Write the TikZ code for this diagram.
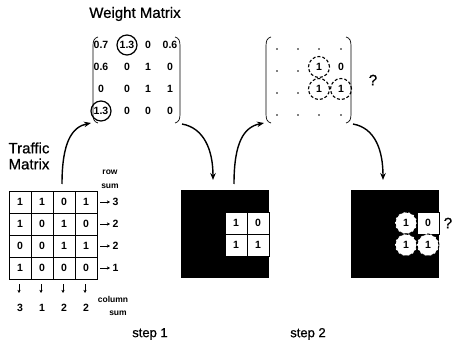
\documentclass[tikz,border=0pt]{standalone}
\usepackage{fontspec}
\setmainfont{Liberation Sans}
\newfontfamily\heavyfont{Liberation Sans}[FakeBold=0.7]
\usetikzlibrary{arrows.meta}
\begin{document}
\begin{tikzpicture}[x=1pt,y=-1pt,
  num/.style={font=\bfseries\fontsize{10.5}{11}\selectfont, inner sep=0pt},
  small/.style={font=\bfseries\fontsize{8.5}{9}\selectfont, inner sep=0pt},
  big/.style={font=\heavyfont\fontsize{15}{16}\selectfont, inner sep=0pt},
  steplbl/.style={font=\heavyfont\fontsize{13}{14}\selectfont, inner sep=0pt},
  conn/.style={line width=1.4pt, -{Stealth[length=7pt,width=5.5pt]}},
  tip/.style={line width=0.9pt, -{Stealth[length=3.2pt,width=3.2pt]}},
  brk/.style={line width=0.7pt, black},
  ring/.style={circle, draw, line width=1.2pt, minimum size=20pt, inner sep=0pt},
  dring/.style={circle, draw, line width=1.1pt, dash pattern=on 3pt off 2pt, minimum size=21pt, inner sep=0pt},
  wdisk/.style={circle, fill=white, draw, line width=1pt, dash pattern=on 3pt off 2pt, minimum size=22pt, inner sep=0pt},
  dotp/.style={circle, fill=black, minimum size=1.8pt, inner sep=0pt},
  cell/.style={draw, line width=0.5pt, minimum size=22pt, inner sep=0pt},
  wcell/.style={fill=white, draw, line width=0.5pt, minimum size=22pt, inner sep=0pt}
]
\useasboundingbox (0,0) rectangle (462,344);

% ---------- Weight matrix 1 ----------
\node[big] (title) at (135,14) {Weight Matrix};
\draw[brk] (98,37) .. controls (94,38) and (93,41) .. (93,46) -- (93,114) .. controls (93,119) and (94,122) .. (98,123);
\draw[brk] (175,37) .. controls (179,38) and (180,41) .. (180,46) -- (180,114) .. controls (180,119) and (179,122) .. (175,123);
\node[num] (a11) at (101,45) {0.7};
\node[num,ring] (a12) at (127,45) {1.3};
\node[num] (a13) at (148,45) {0};
\node[num] (a14) at (170,45) {0.6};
\node[num] (a21) at (101,67) {0.6};
\node[num] (a22) at (127,67) {0};
\node[num] (a23) at (148,67) {1};
\node[num] (a24) at (170,67) {0};
\node[num] (a31) at (101,89) {0};
\node[num] (a32) at (127,89) {0};
\node[num] (a33) at (148,89) {1};
\node[num] (a34) at (170,89) {1};
\node[num,ring] (a41) at (101,111) {1.3};
\node[num] (a42) at (127,111) {0};
\node[num] (a43) at (148,111) {0};
\node[num] (a44) at (170,111) {0};

% ---------- Weight matrix 2 ----------
\draw[brk] (271,37) .. controls (267,38) and (266,41) .. (266,46) -- (266,114) .. controls (266,119) and (267,122) .. (271,123);
\draw[brk] (346,37) .. controls (350,38) and (351,41) .. (351,46) -- (351,114) .. controls (351,119) and (350,122) .. (346,123);
\foreach \c/\x in {1/277,2/298,3/319,4/341}{
  \node[dotp] (p1\c) at (\x,49) {};
  \node[dotp] (p4\c) at (\x,115) {};
}
\node[dotp] (p21) at (277,71) {};
\node[dotp] (p22) at (298,71) {};
\node[dotp] (p31) at (277,93) {};
\node[dotp] (p32) at (298,93) {};
\node[num,dring] (b23) at (319,67) {1};
\node[num] (b24) at (341,67) {0};
\node[num,dring] (b33) at (319,89) {1};
\node[num,dring] (b34) at (341,89) {1};
\node[big] (q1) at (373,80) {?};

% ---------- Traffic matrix ----------
\node[big] (tl1) at (29,148) {Traffic};
\node[big] (tl2) at (29,164) {Matrix};
\node[small] (rowl) at (110,172) {row};
\node[small] (rowl2) at (110,186) {sum};
\foreach \r/\y/\a/\b/\cc/\d/\s in {1/202/1/1/0/1/3, 2/224/1/0/1/0/2, 3/246/0/0/1/1/2, 4/268/1/0/0/0/1}{
  \node[cell,num] (t\r1) at (20,\y) {\a};
  \node[cell,num] (t\r2) at (42,\y) {\b};
  \node[cell,num] (t\r3) at (64,\y) {\cc};
  \node[cell,num] (t\r4) at (86,\y) {\d};
  \coordinate (ra\r) at (100,\y);
  \coordinate (rb\r) at (110,\y);
  \draw[tip] (ra\r) -- (rb\r);
  \node[num] (rs\r) at (115.5,\y) {\s};
}
\draw[line width=0.9pt] (9,191) rectangle (97,279);
\foreach \c/\x/\s in {1/20/3, 2/42/1, 3/64/2, 4/86/2}{
  \coordinate (ca\c) at (\x-1,284);
  \coordinate (cb\c) at (\x-1,293);
  \draw[tip] (ca\c) -- (cb\c);
  \node[num] (cs\c) at (\x,308) {\s};
}
\node[small] (coll) at (113,299) {column};
\node[small] (coll2) at (118,313) {sum};
\node[steplbl] (s1) at (150,334) {step 1};
\node[steplbl] (s2) at (308,334) {step 2};

% ---------- Box 1 ----------
\fill (181,190) rectangle (269,278);
\node[wcell,num] (k11) at (236,223) {1};
\node[wcell,num] (k12) at (258,223) {0};
\node[wcell,num] (k21) at (236,245) {1};
\node[wcell,num] (k22) at (258,245) {1};

% ---------- Box 2 ----------
\fill (351,190) rectangle (439,278);
\node[wcell,num] (m12) at (428,223) {0};
\node[wdisk,num] (m11) at (406,223) {1};
\node[wdisk,num] (m21) at (406,245) {1};
\node[wdisk,num] (m22) at (428,245) {1};
\node[big] (q2) at (448,223) {?};

% ---------- Connectors ----------
\coordinate (e1s) at (62,184);
\coordinate (e1e) at (91,123);
\draw[conn] (e1s) .. controls (62,142) and (72,127) .. (e1e);
\coordinate (e2s) at (182,124);
\coordinate (e2e) at (213,180);
\draw[conn] (e2s) .. controls (204,128) and (213,150) .. (e2e);
\coordinate (e3s) at (234,184);
\coordinate (e3e) at (264,123);
\draw[conn] (e3s) .. controls (234,142) and (244,127) .. (e3e);
\coordinate (e4s) at (353,124);
\coordinate (e4e) at (383,180);
\draw[conn] (e4s) .. controls (375,128) and (383,150) .. (e4e);
\end{tikzpicture}
\end{document}
